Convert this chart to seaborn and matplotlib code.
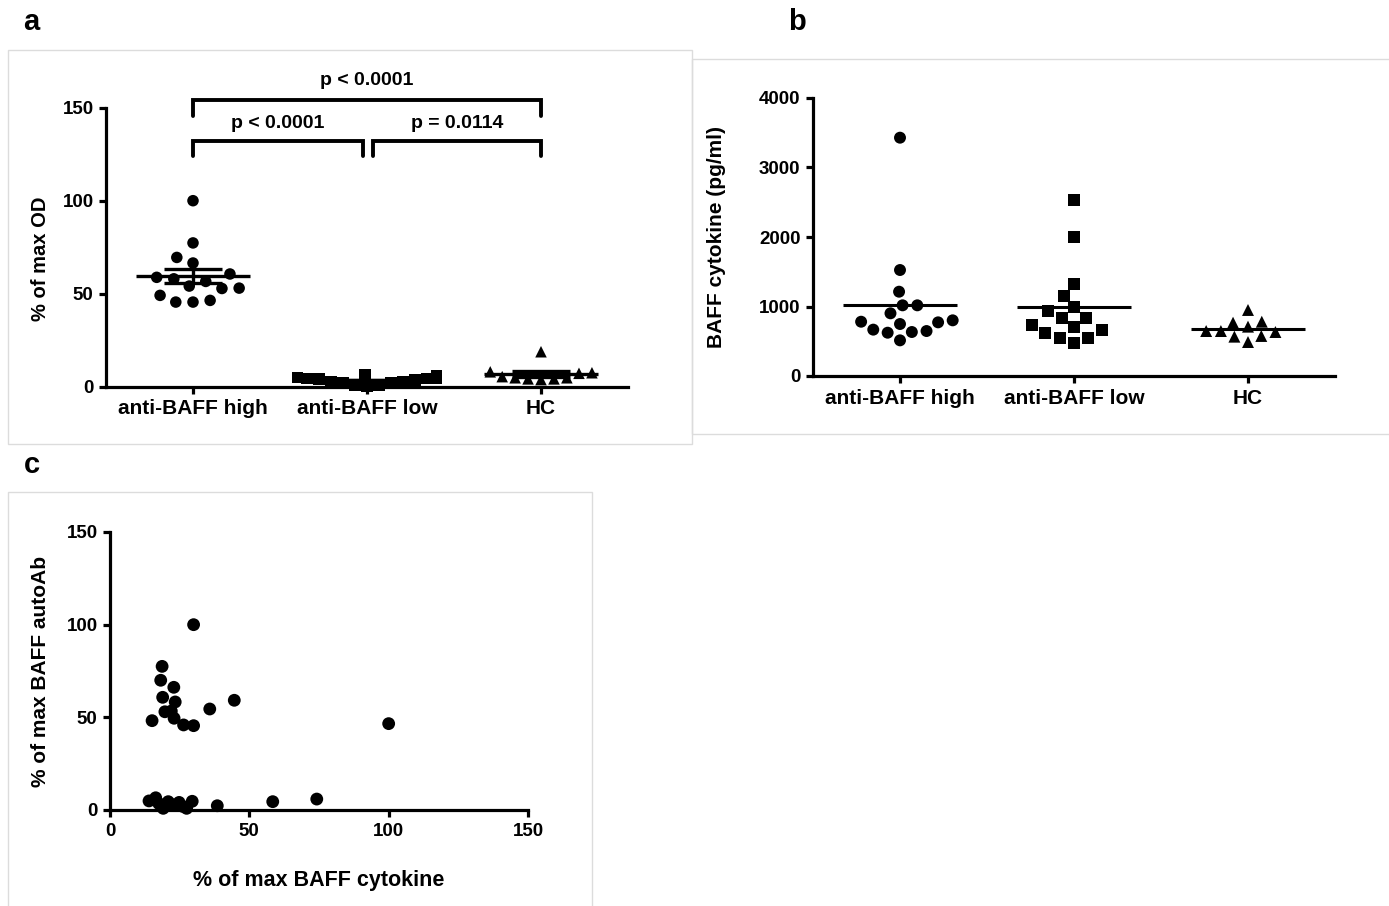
import numpy as np
import pandas as pd
import matplotlib
matplotlib.use("Agg")
import matplotlib.pyplot as plt
from matplotlib.patches import Rectangle
import seaborn as sns

# ---- data -------------------------------------------------------------
groups = ["anti-BAFF high", "anti-BAFF low", "HC"]
group_markers = ["o", "s", "^"]

# anti-BAFF autoantibody, % of max OD
od_high = [100.0, 77.3, 69.5, 66.5, 60.6, 58.8, 58.0, 56.6, 54.1, 53.0, 52.8, 49.1, 46.4, 45.5, 45.5]
od_low = [6.6, 5.9, 4.9, 4.7, 4.5, 4.5, 4.1, 3.5, 2.8, 2.5, 2.3, 2.0, 0.9, 0.9, 0.5]
od_hc = [18.8, 8.0, 7.5, 7.2, 5.4, 4.8, 4.8, 4.2, 4.2, 3.8]

# BAFF cytokine, pg/ml
baff_high = [3429, 1525, 1213, 1017, 1017, 902, 801, 781, 772, 748, 667, 647, 633, 623, 513]
baff_low = [2532, 2000, 1319, 1156, 997, 935, 839, 835, 734, 705, 657, 614, 547, 547, 470]
baff_hc = [950, 781, 767, 710, 647, 647, 633, 576, 566, 489]

# per-patient % of max BAFF cytokine vs % of max BAFF autoantibody
cyto_pct = [30.0, 18.7, 18.2, 22.9, 18.9, 23.4, 44.6, 35.8, 19.7, 22.0, 23.0, 15.1, 26.4, 30.0, 100.0,
            14.0, 16.4, 17.5, 18.5, 19.1, 20.9, 22.5, 24.8, 26.0, 27.5, 29.5, 38.5, 58.4, 74.2]
autoab_pct = [100.0, 77.5, 70.0, 66.2, 60.8, 58.3, 59.2, 54.5, 53.0, 53.4, 49.5, 48.2, 45.9, 45.5, 46.6,
              4.9, 6.6, 3.5, 2.5, 0.9, 4.5, 2.8, 4.1, 2.0, 0.9, 4.7, 2.3, 4.5, 5.9]

# pairwise comparisons: (group i, group j, label)
comparisons = [(0, 2, "p < 0.0001"), (0, 1, "p < 0.0001"), (1, 2, "p = 0.0114")]

od_df = pd.DataFrame({
    "group": np.repeat(groups, [len(od_high), len(od_low), len(od_hc)]),
    "value": od_high + od_low + od_hc,
})
baff_df = pd.DataFrame({
    "group": np.repeat(groups, [len(baff_high), len(baff_low), len(baff_hc)]),
    "value": baff_high + baff_low + baff_hc,
})

# ---- style ------------------------------------------------------------
sns.set_style("ticks")
plt.rcParams.update({
    "font.family": ["Liberation Sans", "DejaVu Sans"],
    "font.weight": "bold",
    "axes.labelweight": "bold",
    "axes.linewidth": 2.3,
    "xtick.major.width": 2.3,
    "ytick.major.width": 2.3,
    "xtick.major.size": 5,
    "ytick.major.size": 5,
    "xtick.color": "black",
    "ytick.color": "black",
    "axes.edgecolor": "black",
    "text.color": "black",
    "axes.labelcolor": "black",
})

W, H = 1389, 906
fig = plt.figure(figsize=(W / 100, H / 100), dpi=100)


def px_axes(x0, y0, x1, y1):
    """Axes whose data limits map onto pixel box (x0, y0)-(x1, y1), y measured from top."""
    return fig.add_axes([x0 / W, 1 - y1 / H, (x1 - x0) / W, (y1 - y0) / H])


# light frames around each panel
for (x0, y0, x1, y1) in [(8, 50, 692, 444), (692, 59, 1395, 434), (8, 492, 592, 912)]:
    fig.add_artist(Rectangle((x0 / W, 1 - y1 / H), (x1 - x0) / W, (y1 - y0) / H,
                             transform=fig.transFigure, fill=False,
                             edgecolor="#dcdcdc", linewidth=1.0))

for letter, (x, y) in zip("abc", [(31, 22), (797, 22), (32, 465)]):
    fig.text(x / W, 1 - y / H, letter, fontsize=21, fontweight="bold", ha="center", va="center")


def style_axes(ax, tick_size=13.5):
    sns.despine(ax=ax)
    ax.tick_params(labelsize=tick_size, pad=4)
    for lab in ax.get_xticklabels() + ax.get_yticklabels():
        lab.set_fontweight("bold")


def swarm_panel(ax, df, size, spreads):
    for g, m, spread in zip(groups, group_markers, spreads):
        sns.swarmplot(data=df[df["group"] == g], x="group", y="value", order=groups,
                      marker=m, color="black", size=size, linewidth=spread,
                      edgecolor="none", clip_on=False, zorder=3, warn_thresh=1.0, ax=ax)
    # drop the empty collections left for absent categories
    for coll in list(ax.collections):
        if len(coll.get_offsets()) == 0:
            coll.remove()
    ax.set_xlim(-0.5, 2.5)
    ax.set_xlabel("")


# ---- panel a: autoantibody OD, mean +/- SEM ---------------------------
ax_a = px_axes(106, 107.7, 628, 386.7)
swarm_panel(ax_a, od_df, size=8.3, spreads=[3.5, 0.0, 0.6])
ax_a.set_ylim(0, 150)
ax_a.set_yticks([0, 50, 100, 150])
ax_a.set_ylabel("% of max OD", fontsize=14.5)
ax_a.yaxis.set_label_coords(-0.108, 0.46)
for i, vals in enumerate([od_high, od_low, od_hc]):
    v = np.asarray(vals)
    mean = v.mean()
    sem = v.std(ddof=1) / np.sqrt(len(v))
    ax_a.hlines(mean, i - 0.33, i + 0.33, color="black", linewidth=2.4, zorder=4, clip_on=False)
    ax_a.errorbar(i, mean, yerr=sem, color="black", capsize=21, capthick=2.4,
                  elinewidth=2.4, zorder=4, clip_on=False)
style_axes(ax_a)
ax_a.tick_params(axis="x", labelsize=15)

# significance brackets
bracket_levels = {(0, 2): (154, 145.5, 164.5), (0, 1): (132, 124, 141.5), (1, 2): (132, 124, 141.5)}
for i, j, label in comparisons:
    top, leg, ty = bracket_levels[(i, j)]
    xi = i + (0.035 if (i, j) == (1, 2) else 0)
    xj = j - (0.025 if (i, j) == (0, 1) else 0)
    ax_a.plot([xi, xi, xj, xj], [leg, top, top, leg], color="black", linewidth=2.8,
              clip_on=False, solid_joinstyle="miter")
    ax_a.text((xi + xj) / 2, ty, label, ha="center", va="center", fontsize=14,
              fontweight="bold", clip_on=False)

# ---- panel b: BAFF cytokine -------------------------------------------
ax_b = px_axes(813, 98, 1335, 376)
swarm_panel(ax_b, baff_df, size=8.6, spreads=[1.5, 2.0, 1.5])
ax_b.set_ylim(0, 4000)
ax_b.set_yticks([0, 1000, 2000, 3000, 4000])
ax_b.set_ylabel("BAFF cytokine (pg/ml)", fontsize=15, labelpad=24)
for i, vals in enumerate([baff_high, baff_low, baff_hc]):
    ax_b.hlines(np.mean(vals), i - 0.33, i + 0.33, color="black", linewidth=2.2, zorder=4)
style_axes(ax_b)
ax_b.tick_params(axis="x", labelsize=15)

# ---- panel c: cytokine vs autoantibody ---------------------------------
ax_c = px_axes(110, 532, 528, 810)
sns.scatterplot(x=cyto_pct, y=autoab_pct, color="black", s=85, edgecolor="none",
                clip_on=False, zorder=3, ax=ax_c)
ax_c.set_xlim(0, 150)
ax_c.set_ylim(0, 150)
ax_c.set_xticks([0, 50, 100, 150])
ax_c.set_yticks([0, 50, 100, 150])
ax_c.set_xlabel("% of max BAFF cytokine", fontsize=15.5, labelpad=22)
ax_c.set_ylabel("% of max BAFF autoAb", fontsize=15, labelpad=12)
style_axes(ax_c)

fig.savefig("out.png", dpi=100)
